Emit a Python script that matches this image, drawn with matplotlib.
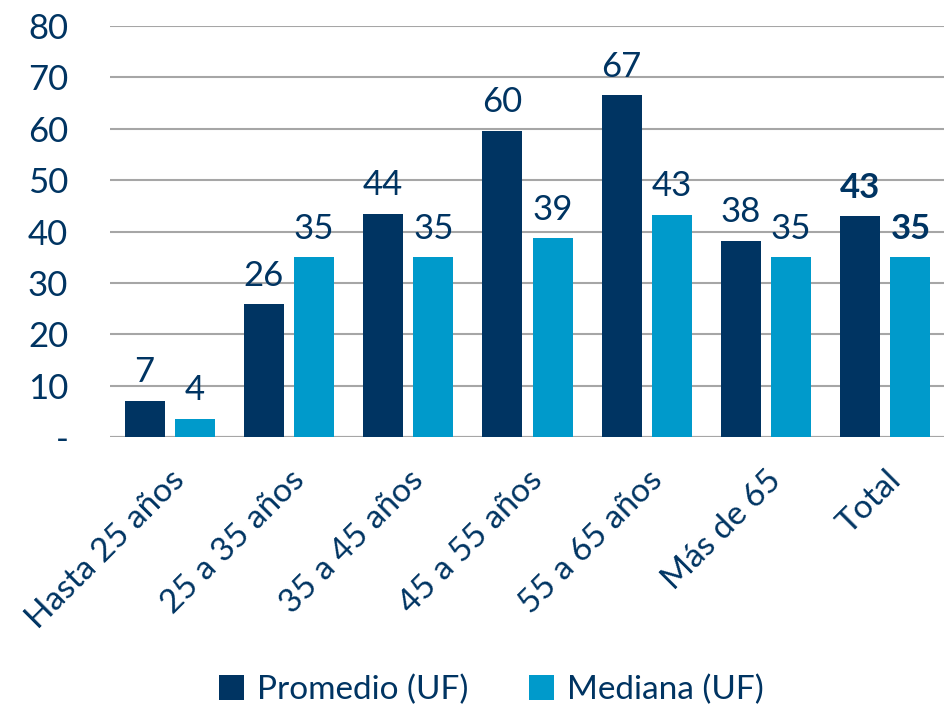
import numpy as np
import matplotlib.pyplot as plt

# Datos del gráfico
categorias = ["Hasta 25 años", "25 a 35 años", "35 a 45 años", "45 a 55 años",
              "55 a 65 años", "Más de 65", "Total"]
promedio = [7.1, 25.9, 43.5, 59.6, 66.6, 38.2, 43.0]
mediana = [3.6, 35.0, 35.0, 38.7, 43.3, 35.0, 35.0]

azul_oscuro = "#003462"
azul_claro = "#009ACB"
texto = "#003462"

plt.rcParams['font.family'] = ['Lato', 'DejaVu Sans']

fig = plt.figure(figsize=(9.45, 7.07), dpi=100)
ax = fig.add_axes([0.1164, 0.3819, 0.8836, 0.5813])

x = np.arange(len(categorias))
w = 0.335
off = 0.21
b1 = ax.bar(x - off, promedio, w, color=azul_oscuro, label="Promedio (UF)", zorder=3)
b2 = ax.bar(x + off, mediana, w, color=azul_claro, label="Mediana (UF)", zorder=3)

# Etiquetas de valores (Total en negrita)
for i in range(len(categorias)):
    peso = "bold" if categorias[i] == "Total" else "normal"
    ax.text(x[i] - off, promedio[i] + 2.4, f"{promedio[i]:.0f}", ha="center", va="bottom",
            fontsize=25, color=texto, fontweight=peso)
    ax.text(x[i] + off, mediana[i] + 2.4, f"{mediana[i]:.0f}", ha="center", va="bottom",
            fontsize=25, color=texto, fontweight=peso)

ax.set_xlim(-0.5, 6.5)
ax.set_ylim(0, 80)
ax.set_yticks(range(0, 81, 10))
ax.set_yticklabels(["-"] + [str(v) for v in range(10, 81, 10)])
ax.yaxis.grid(True, color="#A6A6A6", linewidth=1.5, zorder=0)
ax.set_axisbelow(True)
for s in ["top", "right", "left", "bottom"]:
    ax.spines[s].set_visible(False)
ax.axhline(0, color="#A6A6A6", linewidth=1.5, zorder=2)

ax.tick_params(axis="y", length=0, pad=30, labelsize=25, labelcolor=texto)
ax.tick_params(axis="x", length=0, pad=20, labelsize=24, labelcolor=texto)
ax.set_xticks(x)
ax.set_xticklabels(categorias, rotation=45, ha="right", rotation_mode="anchor")

leg = fig.legend(handles=[b1, b2], loc="lower center", bbox_to_anchor=(0.52, -0.04),
                 ncol=2, frameon=False, fontsize=24, handlelength=0.75, handleheight=0.75,
                 columnspacing=1.8, handletextpad=0.4)
for t in leg.get_texts():
    t.set_color(texto)

fig.savefig("out.png", dpi=100)
